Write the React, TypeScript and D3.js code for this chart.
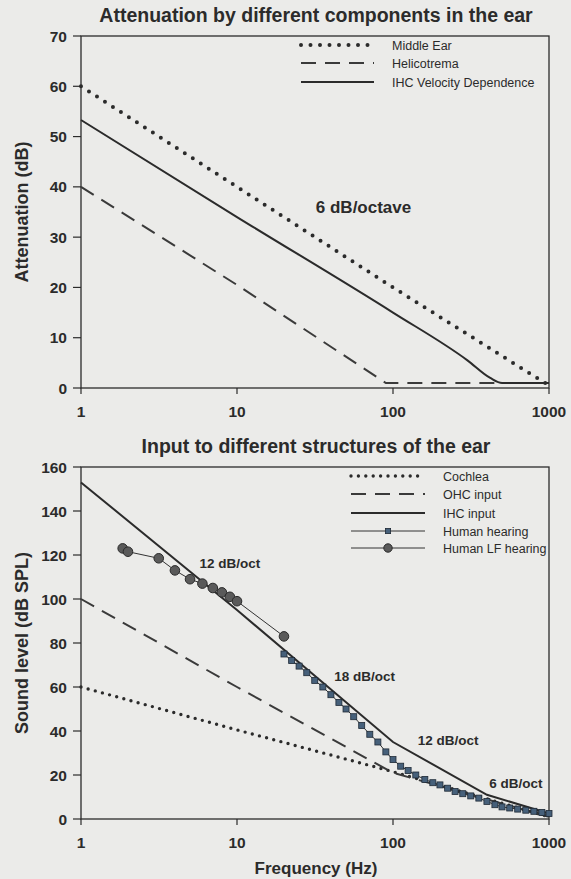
import React from 'react';
import * as d3 from 'd3';

// x ticks shared by both panels (Hz)
const freqTicks = [1, 10, 100, 1000];

// top panel
const attTicks = [0, 10, 20, 30, 40, 50, 60, 70];
const middleEarFreq = [1, 10, 100, 1000];
const middleEarDb = [60, 40, 20, 0.5];
const helicotremaFreq = [1, 10, 90, 1000];
const helicotremaDb = [40, 20.5, 1, 1];
const ihcVelFreq = [1, 10, 100, 300, 420, 500, 1000];
const ihcVelDb = [53.3, 34, 15, 5.5, 2, 1, 1];

// bottom panel
const splTicks = [0, 20, 40, 60, 80, 100, 120, 140, 160];
const cochleaFreq = [1, 10, 100, 1000];
const cochleaDb = [60, 40.5, 21.5, 1];
const ohcFreq = [1, 10, 100, 1000];
const ohcDb = [100, 60, 21, 1];
const ihcFreq = [1, 10, 100, 400, 1000];
const ihcDb = [153, 95, 35, 11, 2.5];
const lfFreq = [1.85, 2, 3.15, 4, 5, 6, 7, 8, 9, 10, 20];
const lfDb = [123, 121.5, 118.5, 113, 109, 107, 105, 103, 101, 99, 83];
const hearFreq = [20, 22.4, 25, 28, 31.5, 35.5, 40, 45, 50, 56, 63, 71, 80, 90, 100, 112, 125, 140, 160, 180, 200, 224, 250, 280, 315, 355, 400, 450, 500, 560, 630, 710, 800, 900, 1000];
const hearDb = [75, 72, 69.5, 66.5, 63, 60, 56.5, 53, 50, 46.5, 42.5, 38.5, 35, 30.5, 27, 24, 22, 20, 18, 16.5, 15.5, 14, 12.5, 11.5, 10.5, 9.5, 8, 6.5, 5.5, 5, 4.5, 4, 3.5, 3, 2.5];

const INK = '#2b2b2b';
const FONT = 'Liberation Sans, Arial, sans-serif';
const NARROW = 'Liberation Sans Narrow, Liberation Sans, Arial, sans-serif';

const zip = (xs, ys) => xs.map((x, i) => [x, ys[i]]);

const styles = {
  dot: { stroke: INK, strokeWidth: 4, strokeDasharray: '0 9.5', strokeLinecap: 'round' },
  dotSmall: { stroke: INK, strokeWidth: 3.4, strokeDasharray: '0 7.4', strokeLinecap: 'round' },
  dash: { stroke: '#3a3a3a', strokeWidth: 2, strokeDasharray: '15 9' },
  solid: { stroke: INK, strokeWidth: 2 },
  thin: { stroke: '#333', strokeWidth: 1 },
};

const Panel = ({ top, title, yLabel, yMax, yTicks, series, legend, notes, xTitle }) => {
  const left = 81, right = 549, bottom = top + 352;
  const x = d3.scaleLog().domain([1, 1000]).range([left, right]);
  const y = d3.scaleLinear().domain([0, yMax]).range([bottom, top]);
  const line = d3.line().x((d) => x(d[0])).y((d) => y(d[1]));
  const smooth = d3.line().x((d) => x(d[0])).y((d) => y(d[1])).curve(d3.curveMonotoneX);

  return (
    <g>
      <text x={316} y={top - 14} textAnchor="middle" fontFamily={FONT} fontWeight="bold" fontSize={19.5} fill={INK}>
        {title}
      </text>
      <rect x={left} y={top} width={right - left} height={bottom - top} fill="none" stroke={INK} strokeWidth={1.3} />
      {yTicks.map((t) => (
        <g key={t}>
          <line x1={left - 8} x2={left} y1={y(t)} y2={y(t)} stroke={INK} strokeWidth={1.2} />
          <text x={left - 14} y={y(t) + 5.5} textAnchor="end" fontFamily={FONT} fontWeight="bold" fontSize={15.5} fill={INK}>
            {t}
          </text>
        </g>
      ))}
      {freqTicks.map((t) => (
        <g key={t}>
          <line x1={x(t)} x2={x(t)} y1={bottom} y2={bottom + 6} stroke={INK} strokeWidth={1.2} />
          <text x={x(t)} y={bottom + 29} textAnchor="middle" fontFamily={FONT} fontWeight="bold" fontSize={15.5} fill={INK}>
            {t}
          </text>
        </g>
      ))}
      <text
        transform={`translate(28,${(top + bottom) / 2}) rotate(-90)`}
        textAnchor="middle"
        fontFamily={FONT}
        fontWeight="bold"
        fontSize={18}
        fill={INK}
      >
        {yLabel}
      </text>
      {xTitle && (
        <text x={316} y={bottom + 55} textAnchor="middle" fontFamily={FONT} fontWeight="bold" fontSize={17} fill={INK}>
          {xTitle}
        </text>
      )}
      {series.map((s, i) => (
        <g key={i}>
          <path d={(s.smooth ? smooth : line)(s.pts)} fill="none" {...s.style} />
          {s.marker === 'square' &&
            s.pts.map((p, j) => (
              <rect key={j} x={x(p[0]) - 3} y={y(p[1]) - 3} width={6} height={6} fill="#46607a" stroke="#1f2a36" strokeWidth={0.8} />
            ))}
          {s.marker === 'circle' &&
            s.pts.map((p, j) => (
              <circle key={j} cx={x(p[0])} cy={y(p[1])} r={4.8} fill="#5a5a5a" stroke="#2a2a2a" strokeWidth={1} />
            ))}
        </g>
      ))}
      {legend.items.map((it, i) => {
        const ly = top + legend.rows[i];
        return (
          <g key={i}>
            <line x1={legend.x0} x2={legend.x1} y1={ly} y2={ly} {...it.style} />
            {it.marker === 'square' && (
              <rect x={(legend.x0 + legend.x1) / 2 - 2.6} y={ly - 2.6} width={5.2} height={5.2} fill="#46607a" stroke="#1f2a36" strokeWidth={0.8} />
            )}
            {it.marker === 'circle' && <circle cx={(legend.x0 + legend.x1) / 2} cy={ly} r={4.2} fill="#5a5a5a" stroke="#2a2a2a" />}
            <text x={legend.tx} y={ly + 4.5} fontFamily={NARROW} fontSize={12.5} fill={INK}>
              {it.label}
            </text>
          </g>
        );
      })}
      {notes.map((n, i) => (
        <text key={i} x={x(n.f)} y={y(n.v) + 5} fontFamily={FONT} fontWeight="bold" fontSize={n.size} fill={INK}>
          {n.text}
        </text>
      ))}
    </g>
  );
};

export default function App() {
  return (
    <svg width={571} height={879} style={{ position: 'absolute', left: 0, top: 0, background: '#ebebe9' }}>
      <rect width={571} height={879} fill="#ebebe9" />
      <Panel
        top={36}
        title="Attenuation by different components in the ear"
        yLabel="Attenuation (dB)"
        yMax={70}
        yTicks={attTicks}
        series={[
          { pts: zip(middleEarFreq, middleEarDb), style: styles.dot },
          { pts: zip(helicotremaFreq, helicotremaDb), style: styles.dash },
          { pts: zip(ihcVelFreq, ihcVelDb), style: styles.solid, smooth: true },
        ]}
        legend={{
          x0: 301,
          x1: 374,
          tx: 392,
          rows: [9, 27, 46],
          items: [
            { label: 'Middle Ear', style: styles.dot },
            { label: 'Helicotrema', style: styles.dash },
            { label: 'IHC Velocity Dependence', style: styles.solid },
          ],
        }}
        notes={[{ f: 32, v: 35.7, text: '6 dB/octave', size: 17 }]}
      />
      <Panel
        top={467}
        title="Input to different structures of the ear"
        yLabel="Sound level (dB SPL)"
        yMax={160}
        yTicks={splTicks}
        xTitle="Frequency (Hz)"
        series={[
          { pts: zip(cochleaFreq, cochleaDb), style: styles.dotSmall },
          { pts: zip(ohcFreq, ohcDb), style: styles.dash },
          { pts: zip(ihcFreq, ihcDb), style: styles.solid },
          { pts: zip(hearFreq, hearDb), style: styles.thin, marker: 'square' },
          { pts: zip(lfFreq, lfDb), style: styles.thin, marker: 'circle' },
        ]}
        legend={{
          x0: 351,
          x1: 425,
          tx: 443,
          rows: [9, 27, 46, 64, 81],
          items: [
            { label: 'Cochlea', style: styles.dotSmall },
            { label: 'OHC input', style: styles.dash },
            { label: 'IHC input', style: styles.solid },
            { label: 'Human hearing', style: styles.thin, marker: 'square' },
            { label: 'Human LF hearing', style: styles.thin, marker: 'circle' },
          ],
        }}
        notes={[
          { f: 5.75, v: 116.4, text: '12 dB/oct', size: 13.5 },
          { f: 42, v: 65, text: '18 dB/oct', size: 13.5 },
          { f: 144, v: 36, text: '12 dB/oct', size: 13.5 },
          { f: 414, v: 16.5, text: '6 dB/oct', size: 13.5 },
        ]}
      />
    </svg>
  );
}
